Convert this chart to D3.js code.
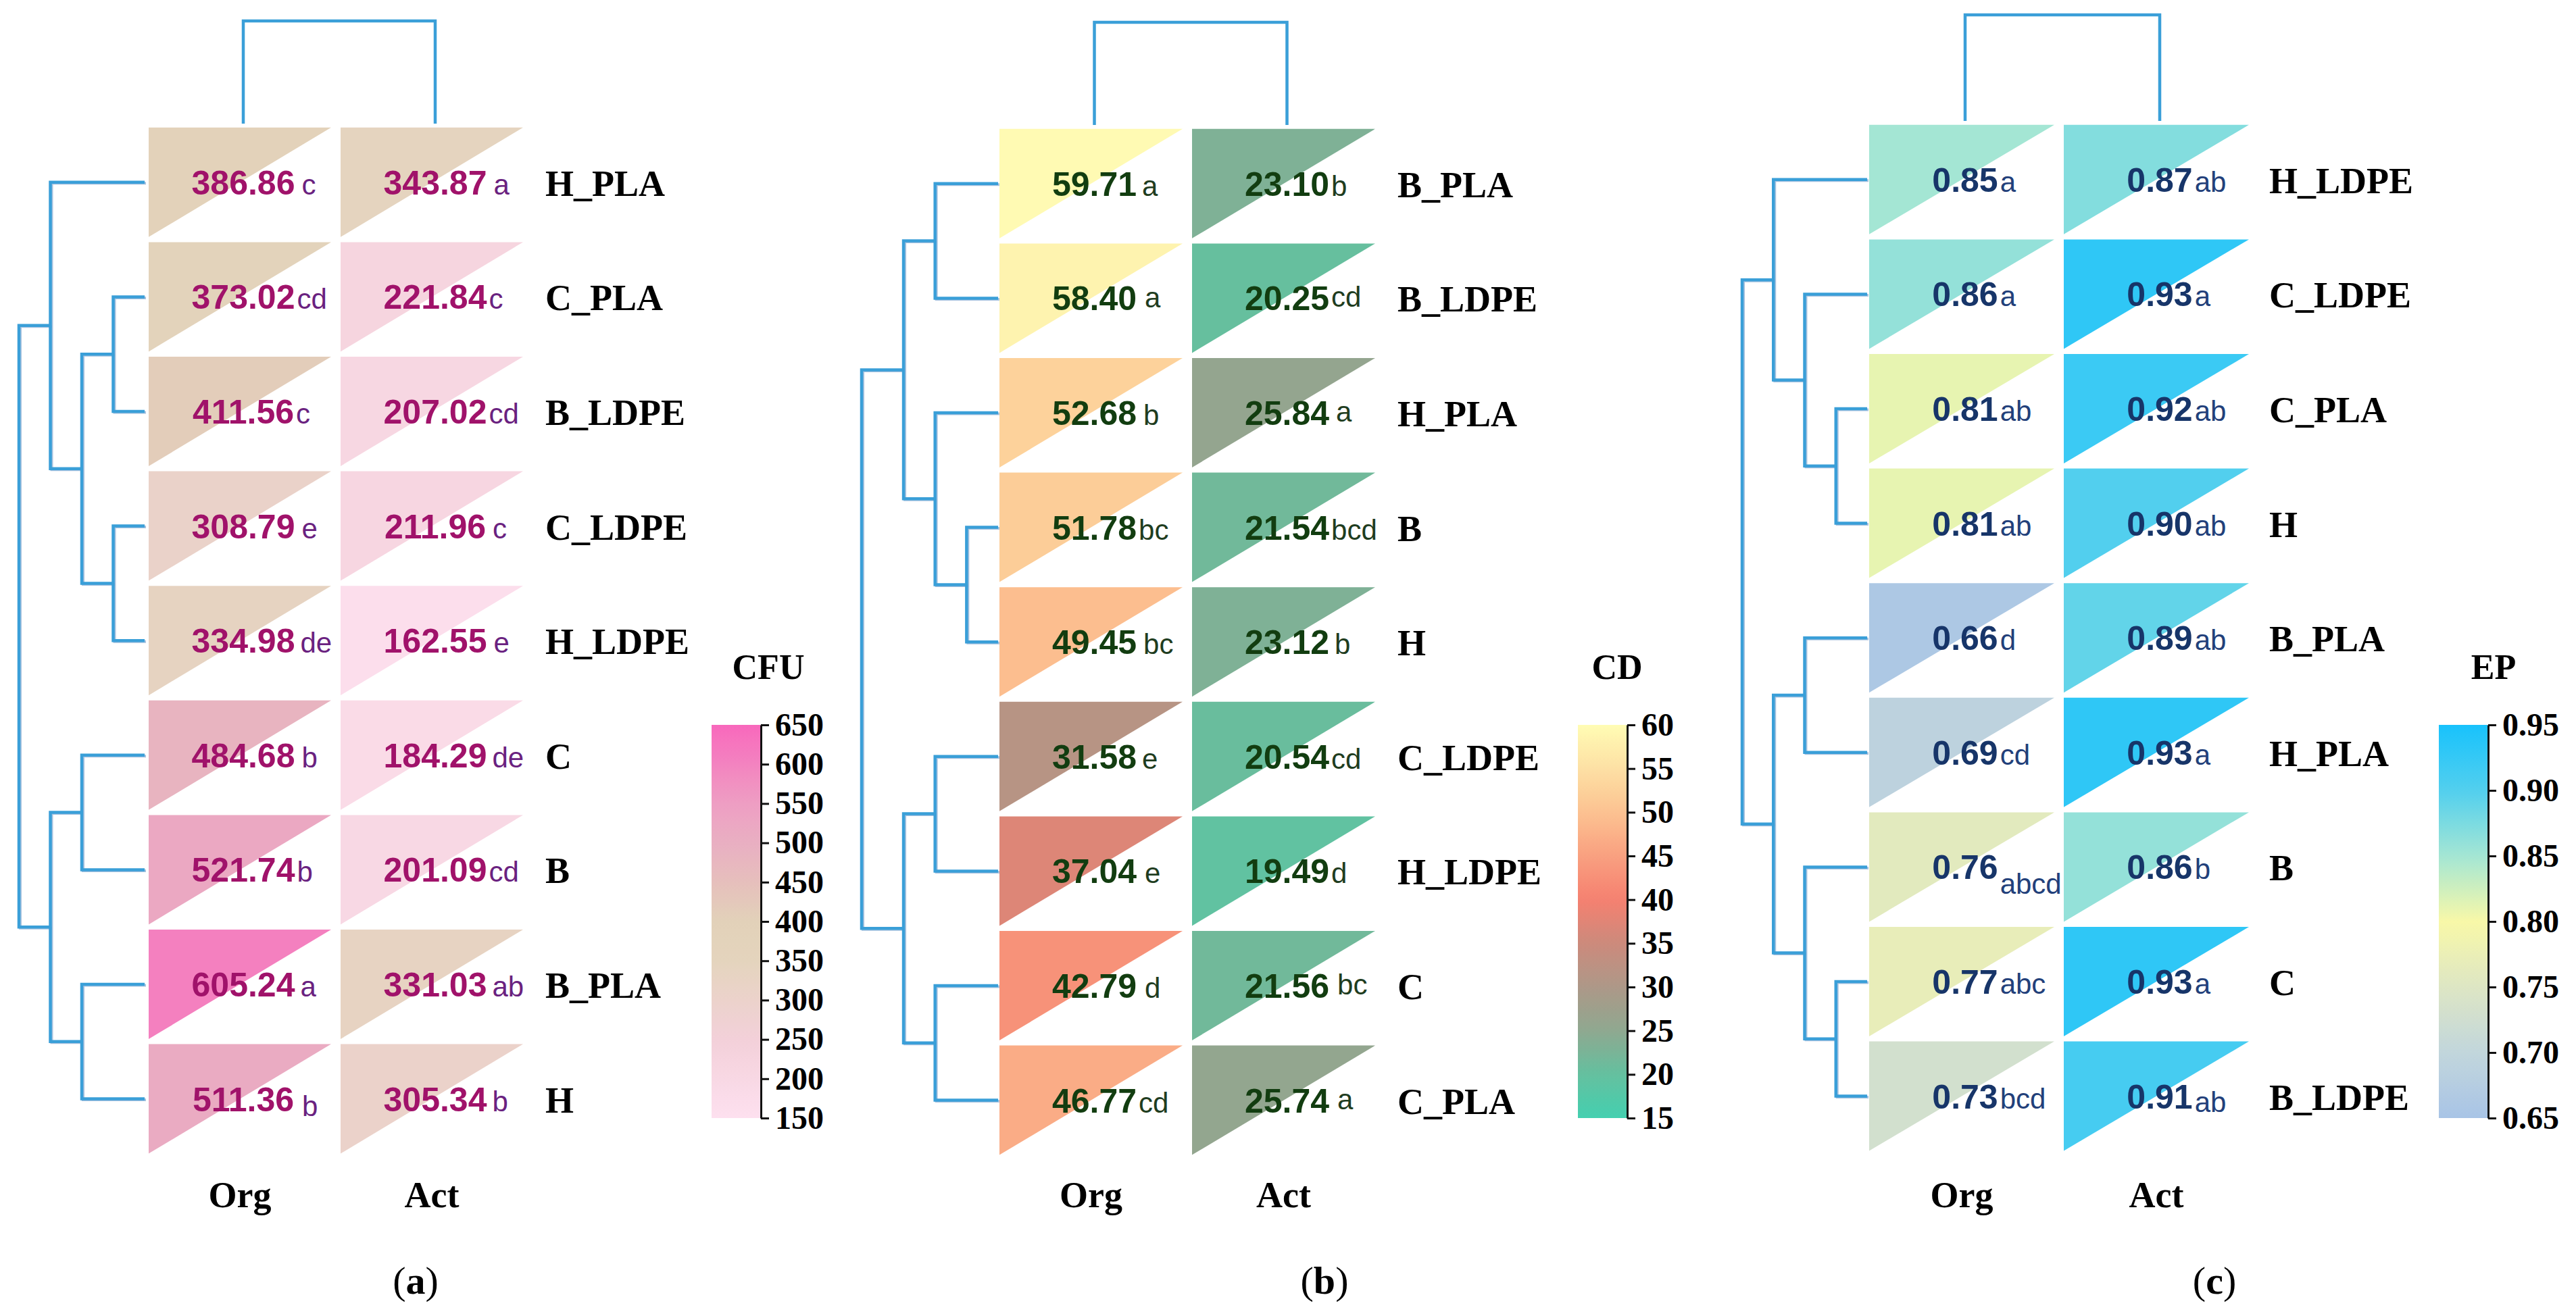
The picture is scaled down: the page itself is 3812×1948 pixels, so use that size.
<!DOCTYPE html>
<html><head><meta charset="utf-8">
<script src="https://cdn.jsdelivr.net/npm/d3@7"></script>
<style>body{margin:0;background:#fff}</style>
</head><body>
<svg id="chart" width="3812" height="1948" xmlns="http://www.w3.org/2000/svg"></svg>
<script>
// ---------------- DATA ----------------
const columns = ["Org", "Act"];

// Panel (a) CFU
const rowsA = ["H_PLA", "C_PLA", "B_LDPE", "C_LDPE", "H_LDPE", "C", "B", "B_PLA", "H"];
const orgA = [386.86, 373.02, 411.56, 308.79, 334.98, 484.68, 521.74, 605.24, 511.36];
const orgLetA = ["c", "cd", "c", "e", "de", "b", "b", "a", "b"];
const actA = [343.87, 221.84, 207.02, 211.96, 162.55, 184.29, 201.09, 331.03, 305.34];
const actLetA = ["a", "c", "cd", "c", "e", "de", "cd", "ab", "b"];
const ticksA = [150, 200, 250, 300, 350, 400, 450, 500, 550, 600, 650];
const treeA = [4, [3, "H_PLA", [2, [1, "C_PLA", "B_LDPE"], [1, "C_LDPE", "H_LDPE"]]],
                  [3, [2, "C", "B"], [2, "B_PLA", "H"]]];

// Panel (b) CD
const rowsB = ["B_PLA", "B_LDPE", "H_PLA", "B", "H", "C_LDPE", "H_LDPE", "C", "C_PLA"];
const orgB = [59.71, 58.40, 52.68, 51.78, 49.45, 31.58, 37.04, 42.79, 46.77];
const orgLetB = ["a", "a", "b", "bc", "bc", "e", "e", "d", "cd"];
const actB = [23.10, 20.25, 25.84, 21.54, 23.12, 20.54, 19.49, 21.56, 25.74];
const actLetB = ["b", "cd", "a", "bcd", "b", "cd", "d", "bc", "a"];
const ticksB = [15, 20, 25, 30, 35, 40, 45, 50, 55, 60];
const treeB = [4.33, [3, [2, "B_PLA", "B_LDPE"], [2, "H_PLA", [1, "B", "H"]]],
                     [3, [2, "C_LDPE", "H_LDPE"], [2, "C", "C_PLA"]]];

// Panel (c) EP
const rowsC = ["H_LDPE", "C_LDPE", "C_PLA", "H", "B_PLA", "H_PLA", "B", "C", "B_LDPE"];
const orgC = [0.85, 0.86, 0.81, 0.81, 0.66, 0.69, 0.76, 0.77, 0.73];
const orgLetC = ["a", "a", "ab", "ab", "d", "cd", "abcd", "abc", "bcd"];
const actC = [0.87, 0.93, 0.92, 0.90, 0.89, 0.93, 0.86, 0.93, 0.91];
const actLetC = ["ab", "a", "ab", "ab", "ab", "a", "b", "a", "ab"];
const ticksC = [0.65, 0.70, 0.75, 0.80, 0.85, 0.90, 0.95];
const treeC = [4, [3, "H_LDPE", [2, "C_LDPE", [1, "C_PLA", "H"]]],
                  [3, [2, "B_PLA", "H_PLA"], [2, "B", [1, "C", "B_LDPE"]]]];

// ---------------- STYLE / LAYOUT ----------------
const panels = [
  { id: "a", title: "CFU", rows: rowsA, org: orgA, orgLet: orgLetA, act: actA, actLet: actLetA,
    ticks: ticksA, tree: treeA, treeMax: 4, fmt: d3.format("d"),
    stops: [150, 250, 350, 400, 450, 500, 550, 650],
    colors: ["#fde0ef", "#f3d0d9", "#e4d4bd", "#e2d1b9", "#e6bfbc", "#e9afc2", "#ee9ec3", "#f868bc"],
    valColor: "#a0126a", letColor: "#6a2280",
    dendroRoot: 28, dendroLeaf: 214, cellX: 220, cellW: 270, colStep: 284, rowTop: 185,
    topY0: 31, topY1: 183, cbX: 1053, labelX: 807, panelLabelX: 615, titleDx: 84,
    letGap: { "0-0": 10, "0-1": 10, "3-0": 10, "3-1": 10, "4-0": 8, "4-1": 10, "5-0": 10, "5-1": 8, "7-0": 8, "7-1": 8, "8-0": 12, "8-1": 8 },
    letOffsets: { "8-0": 7 } },
  { id: "b", title: "CD", rows: rowsB, org: orgB, orgLet: orgLetB, act: actB, actLet: actLetB,
    ticks: ticksB, tree: treeB, treeMax: 4.33, fmt: d3.format("d"),
    stops: [15, 20, 25, 30, 35, 40, 45, 50, 55, 60],
    colors: ["#44d0b0", "#64c09f", "#8fa890", "#ad9888", "#cc8a7c", "#f58070", "#f9a080", "#fcc291", "#fde0a4", "#fffcb4"],
    valColor: "#123d10", letColor: "#1f3d1f",
    dendroRoot: 1275, dendroLeaf: 1477, cellX: 1479, cellW: 271, colStep: 285, rowTop: 187,
    topY0: 33, topY1: 185, cbX: 2335, labelX: 2068, panelLabelX: 1960, titleDx: 58,
    letGap: { "0-0": 8, "1-0": 12, "2-0": 10, "4-0": 10, "5-0": 8, "6-0": 12, "7-0": 12, "2-1": 10, "4-1": 8, "7-1": 12, "8-1": 12 },
    letOffsets: { "1-1": -5, "2-1": -5, "7-1": -5, "8-1": -5, "1-0": -4 } },
  { id: "c", title: "EP", rows: rowsC, org: orgC, orgLet: orgLetC, act: actC, actLet: actLetC,
    ticks: ticksC, tree: treeC, treeMax: 4, fmt: d3.format(".2f"),
    stops: [0.65, 0.70, 0.75, 0.80, 0.85, 0.90, 0.95],
    colors: ["#a8c4e6", "#c2d6dc", "#dde6c4", "#f8f8a8", "#a4e6d4", "#52cfee", "#18c2fc"],
    valColor: "#173569", letColor: "#22407a",
    dendroRoot: 2578, dendroLeaf: 2763, cellX: 2766, cellW: 274, colStep: 288, rowTop: 181,
    topY0: 22, topY1: 179, cbX: 3609, labelX: 3358, panelLabelX: 3277, titleDx: 81,
    letGap: {},
    letOffsets: { "6-0": 22, "8-1": 5 } }
];

const ROW_STEP = 169.6;
const CB_TOP = 1073, CB_BOTTOM = 1655, CB_W = 72;
const LINE_COLOR = "#3a9fd8";
const SANS = "'Liberation Sans', Arial, sans-serif";
const SERIF = "'Liberation Serif', 'Times New Roman', serif";

const svg = d3.select("#chart");
const defs = svg.append("defs");

panels.forEach(p => {
  const g = svg.append("g").attr("class", "panel-" + p.id);

  const y = d3.scaleBand().domain(p.rows)
    .range([p.rowTop, p.rowTop + 9 * ROW_STEP]).paddingInner(0.045).paddingOuter(0.0225);
  const x = d3.scaleBand().domain(columns)
    .range([p.cellX, p.cellX + p.cellW + p.colStep]).paddingInner((p.colStep - p.cellW) / p.colStep).paddingOuter(0);
  const color = d3.scaleLinear().domain(p.stops).range(p.colors).clamp(true);
  const valCenter = c => x(c) + x.bandwidth() / 2 + 5;

  // cells
  const cells = [];
  p.rows.forEach((r, i) => {
    cells.push({ row: r, i, col: "Org", j: 0, v: p.org[i], let: p.orgLet[i] });
    cells.push({ row: r, i, col: "Act", j: 1, v: p.act[i], let: p.actLet[i] });
  });

  g.selectAll("path.cell").data(cells).join("path")
    .attr("class", "cell")
    .attr("d", d => {
      const x0 = x(d.col), y0 = y(d.row), x1 = x0 + x.bandwidth(), y1 = y0 + y.bandwidth();
      return `M${x0},${y0}L${x1},${y0}L${x0},${y1}Z`;
    })
    .attr("fill", d => color(d.v));

  const fmtVal = d3.format(".2f");
  cells.forEach(d => {
    const cy = y(d.row) + y.bandwidth() / 2;
    const t = g.append("text")
      .attr("x", valCenter(d.col)).attr("y", cy + 18)
      .attr("text-anchor", "middle")
      .style("font-family", SANS).style("font-weight", "bold").style("font-size", "50px")
      .attr("fill", p.valColor)
      .text(fmtVal(d.v));
    const w = t.node().getComputedTextLength();
    const key = d.i + "-" + d.j;
    const off = p.letOffsets[key] || 0;
    const gap = p.letGap[key] !== undefined ? p.letGap[key] : 3;
    g.append("text")
      .attr("x", valCenter(d.col) + w / 2 + gap).attr("y", cy + 18 + off)
      .style("font-family", SANS).style("font-size", "42px")
      .attr("fill", p.letColor)
      .text(d.let);
  });

  // row labels
  g.selectAll("text.rowlab").data(p.rows).join("text")
    .attr("class", "rowlab")
    .attr("x", p.labelX).attr("y", d => y(d) + y.bandwidth() / 2 + 20)
    .style("font-family", SERIF).style("font-weight", "bold").style("font-size", "54px")
    .attr("fill", "#000").text(d => d);

  // column labels
  g.selectAll("text.collab").data(columns).join("text")
    .attr("class", "collab")
    .attr("x", d => valCenter(d) - 5).attr("y", 1787)
    .attr("text-anchor", "middle")
    .style("font-family", SERIF).style("font-weight", "bold").style("font-size", "54px")
    .attr("fill", "#000").text(d => d);

  // left dendrogram
  const root = d3.hierarchy(p.tree, d => Array.isArray(d) ? d.slice(1) : null);
  const hx = d3.scaleLinear().domain([0, p.treeMax]).range([p.dendroLeaf, p.dendroRoot]);
  root.eachAfter(n => {
    if (n.children) {
      n.py = (n.children[0].py + n.children[n.children.length - 1].py) / 2;
      n.px = hx(n.data[0]);
    } else {
      n.py = y(n.data) + y.bandwidth() / 2;
      n.px = hx(0);
    }
  });
  const internal = root.descendants().filter(n => n.children);
  const elbow = n => {
    const a = n.children[0], b = n.children[1];
    return `M${a.px},${a.py}H${n.px}V${b.py}H${b.px}`;
  };
  g.selectAll("path.dendro-shadow").data(internal).join("path")
    .attr("class", "dendro-shadow")
    .attr("d", elbow).attr("transform", "translate(2,1.5)")
    .attr("fill", "none").attr("stroke", "#3f78b8").attr("stroke-opacity", 0.45).attr("stroke-width", 4);
  g.selectAll("path.dendro").data(internal).join("path")
    .attr("class", "dendro")
    .attr("d", elbow)
    .attr("fill", "none").attr("stroke", LINE_COLOR).attr("stroke-width", 4.5);

  // top dendrogram (columns)
  const colRoot = d3.hierarchy([1, "Org", "Act"], d => Array.isArray(d) ? d.slice(1) : null);
  const vy = d3.scaleLinear().domain([0, 1]).range([p.topY1, p.topY0]);
  const kids = colRoot.children;
  g.append("path")
    .attr("d", `M${valCenter(kids[0].data)},${vy(0)}V${vy(colRoot.data[0])}H${valCenter(kids[1].data)}V${vy(0)}`)
    .attr("fill", "none").attr("stroke", LINE_COLOR).attr("stroke-width", 4.5);

  // colorbar
  const ext = d3.extent(p.ticks);
  const cb = d3.scaleLinear().domain(ext).range([CB_BOTTOM, CB_TOP]);
  const grad = defs.append("linearGradient").attr("id", "grad-" + p.id)
    .attr("x1", 0).attr("y1", 1).attr("x2", 0).attr("y2", 0);
  d3.range(0, 41).forEach(k => {
    const v = ext[0] + (ext[1] - ext[0]) * k / 40;
    grad.append("stop").attr("offset", (k / 40 * 100) + "%").attr("stop-color", color(v));
  });
  g.append("rect").attr("x", p.cbX).attr("y", CB_TOP).attr("width", CB_W).attr("height", CB_BOTTOM - CB_TOP)
    .attr("fill", `url(#grad-${p.id})`);
  const ax = g.append("g").attr("transform", `translate(${p.cbX + CB_W + 1},0)`)
    .call(d3.axisRight(cb).tickValues(p.ticks).tickSize(12).tickSizeOuter(0).tickPadding(9).tickFormat(p.fmt));
  ax.select(".domain").attr("stroke", "#111").attr("stroke-width", 3);
  ax.selectAll(".tick line").attr("stroke", "#111").attr("stroke-width", 3);
  ax.selectAll(".tick text").attr("fill", "#000")
    .style("font-family", SERIF).style("font-weight", "bold").style("font-size", "48px");

  g.append("text").attr("x", p.cbX + p.titleDx).attr("y", 1005).attr("text-anchor", "middle")
    .style("font-family", SERIF).style("font-weight", "bold").style("font-size", "52px")
    .attr("fill", "#000").text(p.title);

  // panel label
  const pl = g.append("text").attr("x", p.panelLabelX).attr("y", 1915).attr("text-anchor", "middle")
    .style("font-family", SERIF).style("font-size", "58px").attr("fill", "#000");
  pl.append("tspan").text("(");
  pl.append("tspan").style("font-weight", "bold").text(p.id);
  pl.append("tspan").text(")");
});
</script>
</body></html>
